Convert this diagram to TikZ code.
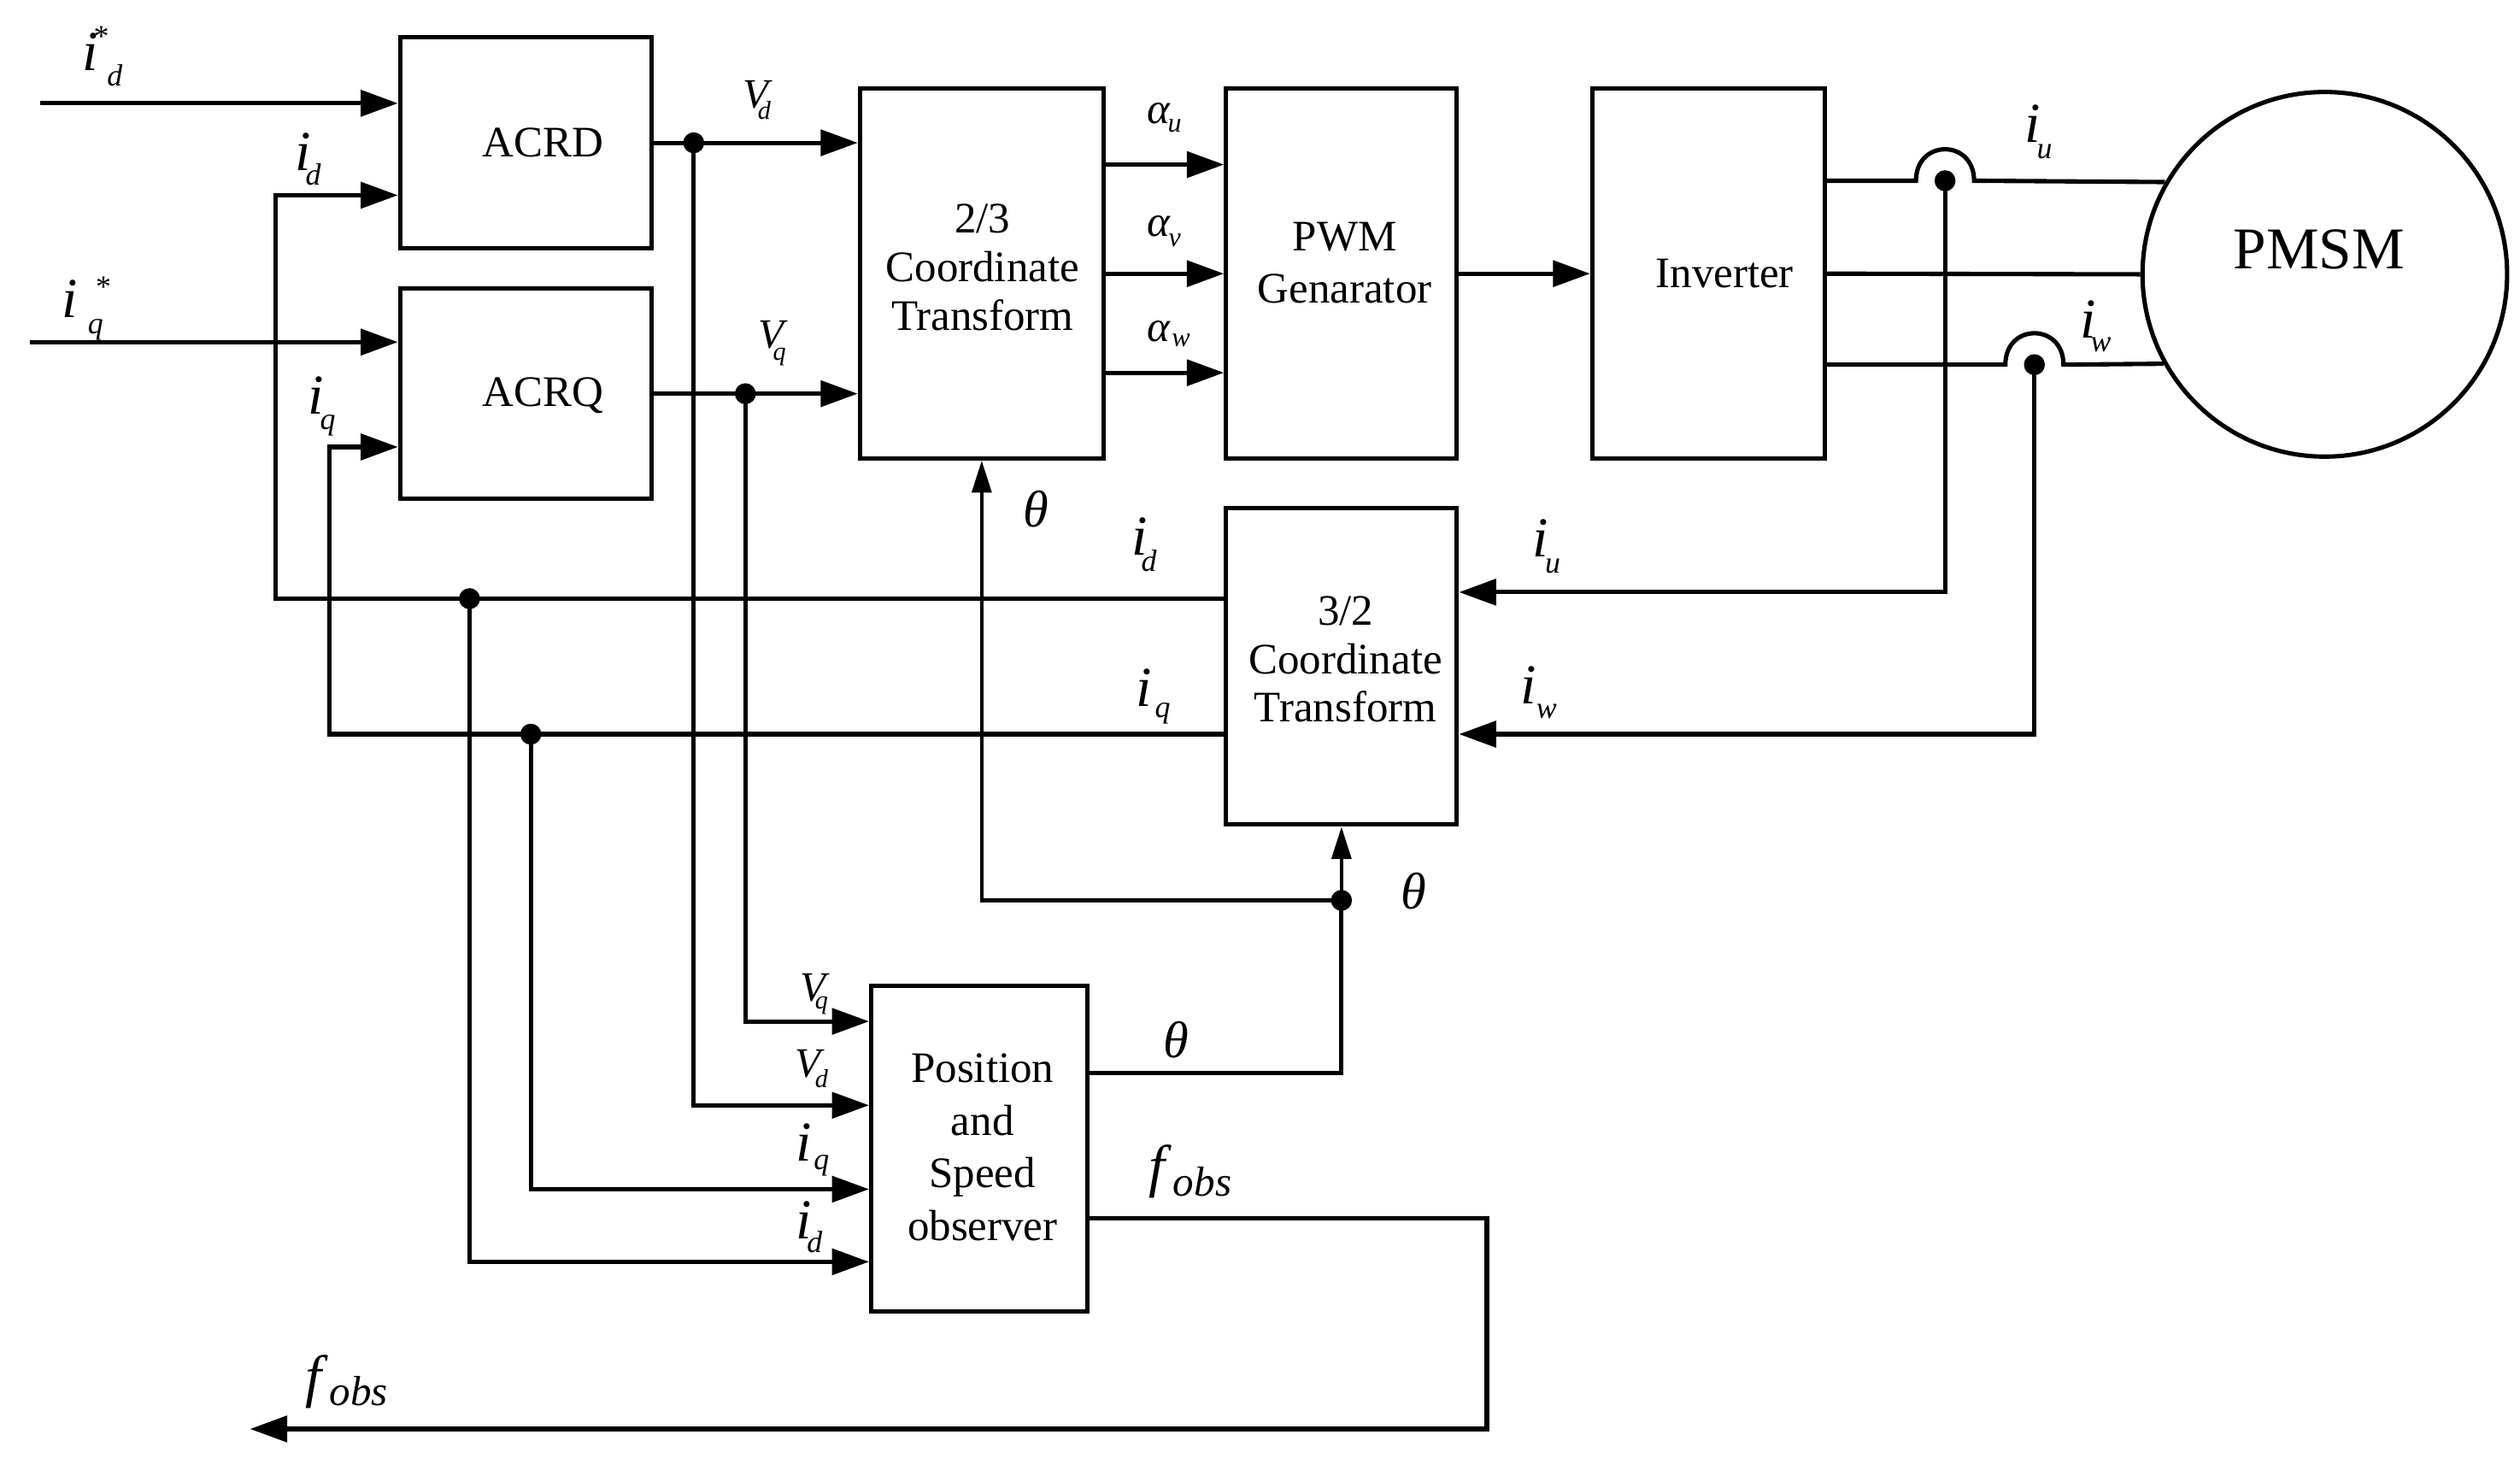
\documentclass[tikz,border=0pt]{standalone}
\usepackage{fontspec}
\setmainfont{Liberation Serif}
\usetikzlibrary{arrows.meta,calc}
\newcommand{\lfMain}{\fontsize{35}{35}\selectfont\itshape}
\newcommand{\lfSub}{\fontsize{19}{19}\selectfont\itshape}
\newcommand{\lfV}{\fontsize{26}{26}\selectfont\itshape}
\newcommand{\lfVs}{\fontsize{16}{16}\selectfont\itshape}
\newcommand{\lfA}{\fontsize{27}{27}\selectfont\itshape}
\newcommand{\lfAs}{\fontsize{17}{17}\selectfont\itshape}
\newcommand{\lfT}{\fontsize{32}{32}\selectfont\itshape}
\newcommand{\isub}[3]{{\lfMain i}\kern#1\raisebox{-#2}{\lfSub #3}}
\newcommand{\vsub}[3]{{\lfV V}\kern#1\raisebox{-#2}{\lfVs #3}}
\newcommand{\asub}[3]{{\lfA α}\kern#1\raisebox{-#2}{\lfAs #3}}
\newcommand{\fobslab}{{\fontsize{36}{36}\selectfont\itshape f}\kern5pt\raisebox{-6pt}{\fontsize{26}{26}\selectfont\itshape obs}}
\begin{document}
\begin{tikzpicture}[x=1pt,y=-1pt,
  wire/.style={line width=2.7pt},
  arr/.style={wire,-{Triangle[length=23pt,width=16pt]}},
  varr/.style={line width=2.4pt,-{Triangle[length=20pt,width=12pt]}},
  box/.style={draw,line width=2.7pt,inner sep=0pt},
  dot/.style={circle,fill,inner sep=0pt,minimum size=13pt},
  txt/.style={inner sep=0pt,anchor=base,font=\fontsize{27}{30}\selectfont},
  lab/.style={inner sep=0pt,anchor=base west},
  thl/.style={inner sep=0pt,anchor=base,font=\lfT},
]
\useasboundingbox (0,0) rectangle (1562,907.3);

% boxes
\node[box,minimum width=156pt,minimum height=131pt] (acrd) at (326,88.5) {};
\node[box,minimum width=156pt,minimum height=130pt] (acrq) at (326,244) {};
\node[box,minimum width=151pt,minimum height=229pt] (ct23) at (608.5,169.5) {};
\node[box,minimum width=143pt,minimum height=229pt] (pwm) at (831.5,169.5) {};
\node[box,minimum width=144pt,minimum height=229pt] (inv) at (1059,169.5) {};
\node[box,minimum width=143pt,minimum height=196pt] (ct32) at (831.5,413) {};
\node[box,minimum width=134pt,minimum height=202pt] (obs) at (607,712) {};
\node[draw,circle,line width=2.7pt,minimum size=226pt,inner sep=0pt] (pmsm) at (1441,170) {};

% box texts
\node[txt] (acrdt) at (336.5,97) {ACRD};
\node[txt] (acrqt) at (336.5,252) {ACRQ};
\node[txt] (ct23t) at (609,144.5) {\begin{tabular}[t]{@{}c@{}}2/3\\Coordinate\\Transform\end{tabular}};
\node[txt] (pwmt) at (833.5,155.7) {\begin{tabular}[t]{@{}c@{}}PWM\\[2pt]Genarator\end{tabular}};
\node[txt] (invt) at (1069,178) {Inverter};
\node[txt,font=\fontsize{36.7}{40}\selectfont] (pmsmt) at (1437.5,166.8) {PMSM};
\node[txt] (ct32t) at (834,387.5) {\begin{tabular}[t]{@{}c@{}}3/2\\Coordinate\\Transform\end{tabular}};
\node[txt] (obst) at (609,670.6) {\begin{tabular}[t]{@{}c@{}}Position\\[2.8pt]and\\[2.8pt]Speed\\[2.8pt]observer\end{tabular}};

% junction dots
\node[dot] (jvd) at (430,88.5) {};
\node[dot] (jvq) at (462,244) {};
\node[dot] (jid) at (291,371) {};
\node[dot] (jiq) at (329,455) {};
\node[dot] (ju) at (1205.6,112) {};
\node[dot] (jw) at (1261,226) {};
\node[dot] (jth) at (831.5,558) {};

% free ends and corners
\coordinate (idsin) at (25,64);
\coordinate (iqsin) at (18.6,212);
\coordinate (cid) at (171,121);
\coordinate (ciq) at (204,277);
\coordinate (cf) at (921.6,885.6);
\coordinate (fout) at (155,885.6);

% inputs
\draw[arr] (idsin) -- (idsin -| acrd.west);
\draw[arr] (iqsin) -- (iqsin -| acrq.west);

% Vd, Vq
\draw[arr] (acrd.east) -- (acrd.east -| ct23.west);
\draw[arr] (acrq.east) -- (acrq.east -| ct23.west);
\draw[arr] (jvd.center) |- (obs.west |- 0,685);
\draw[arr] (jvq.center) |- (obs.west |- 0,633);

% 2/3 -> PWM -> inverter
\draw[arr] (ct23.east |- 0,102) -- (pwm.west |- 0,102);
\draw[arr] (ct23.east |- 0,169.6) -- (pwm.west |- 0,169.6);
\draw[arr] (ct23.east |- 0,231) -- (pwm.west |- 0,231);
\draw[arr] (pwm.east |- 0,169.6) -- (inv.west |- 0,169.6);

% inverter -> PMSM
\draw[wire] (inv.east |- 0,112) -- (1187.6,112) .. controls (1187.6,86) and (1223.6,86) .. (1223.6,112) -- (pmsm.150);
\draw[wire] (inv.east |- 0,169.6) -- (pmsm.west);
\draw[wire] (inv.east |- 0,226) -- (1243,226) .. controls (1243,200) and (1279,200) .. (1279,226) -- (pmsm.209);

% current feedback
\draw[arr] (ju.center) |- (ct32.east |- 0,367);
\draw[arr] (jw.center) |- (ct32.east |- 0,455);
\draw[arr] (ct32.west |- 0,371) -| (cid) -- (cid -| acrd.west);
\draw[arr] (ct32.west |- 0,455) -| (ciq) -- (ciq -| acrq.west);
\draw[arr] (jid.center) |- (obs.west |- 0,782);
\draw[arr] (jiq.center) |- (obs.west |- 0,737);

% theta
\draw[wire] (obs.east |- 0,665) -| (jth.center);
\draw[varr] (jth.center) -- (ct32.south);
\draw[varr] (jth.center) -| (ct23.south);

% f_obs
\draw[arr] (obs.east |- 0,755) -| (cf) -- (fout);

% labels
\node[lab] (l1) at (51,43.6) {{\lfMain i}\rlap{\kern-2.85pt\raisebox{14.8pt}{\lfSub\upshape *}}\kern5.5pt\raisebox{-9.4pt}{\lfSub d}};
\node[lab] (l2) at (38,197) {{\lfMain i}\rlap{\kern11.5pt\raisebox{13.2pt}{\lfSub\upshape *}}\kern6.5pt\raisebox{-10pt}{\lfSub q}};
\node[lab] (l3) at (183,105.6) {\isub{-3.5pt}{9pt}{d}};
\node[lab] (l4) at (191,256.7) {\isub{-2.5pt}{9.7pt}{q}};
\node[lab] (l5) at (460.5,67) {\vsub{-6.8pt}{7pt}{d}};
\node[lab] (l6) at (470,216) {\vsub{-7pt}{7pt}{q}};
\node[lab] (l7) at (711,76.6) {\asub{-1.5pt}{5.4pt}{u}};
\node[lab] (l8) at (711,146.3) {\asub{-1pt}{6.6pt}{v}};
\node[lab] (l9) at (711,211.4) {\asub{1pt}{3.6pt}{w}};
\node[lab] (l10) at (1254.6,88) {\isub{-2pt}{10pt}{u}};
\node[lab] (l11) at (1289,209.5) {\isub{-3pt}{8.5pt}{w}};
\node[thl] (l12) at (642,326.6) {θ};
\node[lab] (l13) at (701.5,344) {\isub{-4pt}{10pt}{d}};
\node[lab] (l14) at (704,437.8) {\isub{2pt}{6.9pt}{q}};
\node[lab] (l15) at (949.5,345) {\isub{-1.7pt}{10pt}{u}};
\node[lab] (l16) at (942.3,436) {\isub{0pt}{9pt}{w}};
\node[thl] (l17) at (876,563.5) {θ};
\node[lab] (l18) at (495.6,620.3) {\vsub{-6.5pt}{5pt}{q}};
\node[lab] (l19) at (492.6,667.5) {\vsub{-3.5pt}{6.5pt}{d}};
\node[lab] (l20) at (493,719.5) {\isub{1.5pt}{5.2pt}{q}};
\node[lab] (l21) at (493,767.9) {\isub{-2.7pt}{8.5pt}{d}};
\node[thl] (l22) at (729,655.4) {θ};
\node[lab] (l23) at (712,735) {\fobslab};
\node[lab] (l24) at (189,865) {\fobslab};
\end{tikzpicture}
\end{document}
